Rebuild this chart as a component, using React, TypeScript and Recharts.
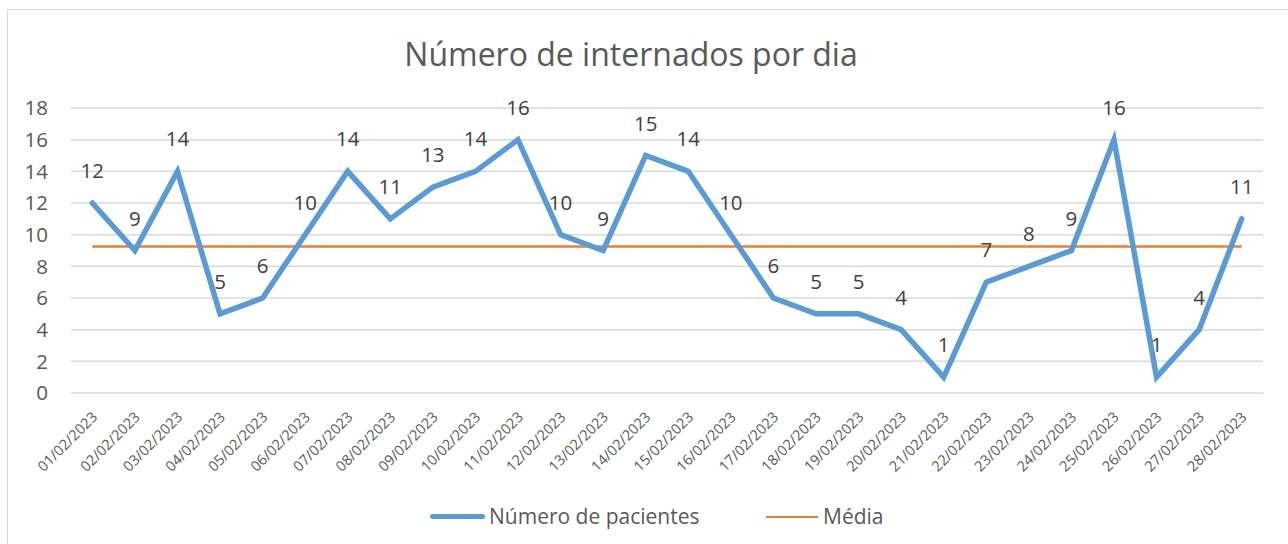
import React from "react"
import { LineChart, Line, XAxis, YAxis, CartesianGrid, LabelList } from "recharts"

const DATES = [
  "01/02/2023", "02/02/2023", "03/02/2023", "04/02/2023", "05/02/2023", "06/02/2023", "07/02/2023",
  "08/02/2023", "09/02/2023", "10/02/2023", "11/02/2023", "12/02/2023", "13/02/2023", "14/02/2023",
  "15/02/2023", "16/02/2023", "17/02/2023", "18/02/2023", "19/02/2023", "20/02/2023", "21/02/2023",
  "22/02/2023", "23/02/2023", "24/02/2023", "25/02/2023", "26/02/2023", "27/02/2023", "28/02/2023",
]
const PATIENTS = [12, 9, 14, 5, 6, 10, 14, 11, 13, 14, 16, 10, 9, 15, 14, 10, 6, 5, 5, 4, 1, 7, 8, 9, 16, 1, 4, 11]
const MEAN = 9.25
const Y_TICKS = [0, 2, 4, 6, 8, 10, 12, 14, 16, 18]

const data = DATES.map((d, i) => ({ date: d, pacientes: PATIENTS[i], media: MEAN }))

const FONT = "'Open Sans', 'Noto Sans', sans-serif"
const TEXT = "#595959"
const BLUE = "#5B9BD5"
const ORANGE = "#ED7D31"

function DateTick(props: any) {
  const { x, y, payload } = props
  const ax = x + 6
  const ay = y + 17
  return (
    <text
      x={ax}
      y={ay}
      textAnchor="end"
      transform={`rotate(-45 ${ax} ${ay})`}
      fontSize={14.5}
      fill={TEXT}
      fontFamily={FONT}
    >
      {payload.value}
    </text>
  )
}

export default function App() {
  return (
    <div style={{ position: "absolute", left: 0, top: 0, width: 1288, height: 544, background: "white", overflow: "hidden", fontFamily: FONT }}>
      <div style={{ position: "absolute", left: 7, top: 9, width: 1300, height: 560, border: "1.5px solid #d9d9d9" }} />
      <div style={{ position: "absolute", left: 0, width: 1262, top: 32, textAlign: "center", fontSize: 32, color: TEXT }}>
        Número de internados por dia
      </div>
      <div style={{ position: "absolute", left: 0, top: 0 }}>
        <LineChart width={1288} height={544} data={data} margin={{ top: 108, right: 25, bottom: 71, left: 0 }}>
          <CartesianGrid vertical={false} stroke="#d9d9d9" strokeWidth={1.5} />
          <XAxis
            dataKey="date"
            interval={0}
            padding={{ left: 21.3, right: 21.3 }}
            axisLine={false}
            tickLine={false}
            height={80}
            tick={<DateTick />}
          />
          <YAxis
            domain={[0, 18]}
            ticks={Y_TICKS}
            width={71}
            axisLine={false}
            tickLine={false}
            tickMargin={17}
            tick={{ fontSize: 20.5, fill: TEXT, fontFamily: FONT }}
          />
          <Line
            dataKey="media"
            stroke={ORANGE}
            strokeWidth={2.5}
            dot={false}
            isAnimationActive={false}
          />
          <Line
            dataKey="pacientes"
            stroke={BLUE}
            strokeWidth={5.5}
            strokeLinecap="round"
            dot={false}
            isAnimationActive={false}
          >
            <LabelList dataKey="pacientes" position="top" offset={25} fontSize={20.5} fill="#404040" fontFamily={FONT} />
          </Line>
        </LineChart>
      </div>
      {/* legend */}
      <div style={{ position: "absolute", top: 514, left: 430, width: 55, height: 5, borderRadius: 3, background: BLUE }} />
      <div style={{ position: "absolute", top: 502, left: 489, fontSize: 21, lineHeight: "28px", color: TEXT }}>Número de pacientes</div>
      <div style={{ position: "absolute", top: 515.5, left: 766, width: 52, height: 2.5, background: ORANGE }} />
      <div style={{ position: "absolute", top: 502, left: 823, fontSize: 21, lineHeight: "28px", color: TEXT }}>Média</div>
    </div>
  )
}
